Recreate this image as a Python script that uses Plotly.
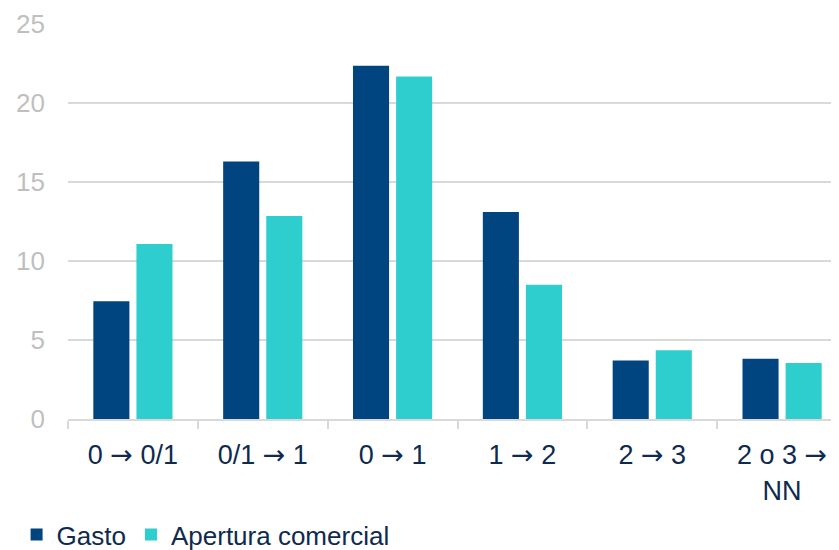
import plotly.graph_objects as go

categories = ["0 → 0/1", "0/1 → 1", "0 → 1", "1 → 2", "2 → 3", "2 o 3 →<br>NN"]
gasto = [7.45, 16.3, 22.35, 13.1, 3.7, 3.82]
apertura = [11.08, 12.85, 21.68, 8.5, 4.35, 3.55]
y_ticks = [0, 5, 10, 15, 20, 25]

FONT = "Liberation Sans, Arial, sans-serif"
NAVY = "#0E2A4F"

# tick text: render the arrow with a wider glyph
tick_text = [c.replace("→", '<span style="font-family:DejaVu Sans">→</span>') for c in categories]

fig = go.Figure()
fig.add_trace(go.Bar(name="Gasto", x=categories, y=gasto,
                     marker=dict(color="#004580", line=dict(width=0))))
fig.add_trace(go.Bar(name="Apertura comercial", x=categories, y=apertura,
                     marker=dict(color="#2ECECE", line=dict(width=0))))

fig.update_layout(
    width=839, height=550,
    margin=dict(l=60, r=0, t=16, b=137),
    paper_bgcolor="white", plot_bgcolor="white",
    barmode="group", bargap=0.336, bargroupgap=0.163,
    font=dict(family=FONT, size=26, color=NAVY),
    showlegend=True,
    legend=dict(orientation="h", x=-0.066, xanchor="left", y=-0.293, yanchor="middle",
                font=dict(size=26, color=NAVY), itemwidth=30, tracegroupgap=0,
                bgcolor="rgba(0,0,0,0)"),
    xaxis=dict(type="category", range=[-0.5, 5.5], tickson="boundaries",
               tickvals=categories, ticktext=tick_text,
               ticks="outside", ticklen=8, tickcolor="#D9D9D9", tickwidth=2,
               showline=True, linecolor="#D9D9D9", linewidth=2,
               showgrid=False, tickfont=dict(size=27, color=NAVY),
               ticklabelstandoff=11, automargin=False, fixedrange=True),
    yaxis=dict(range=[0, 25], tickvals=y_ticks, showgrid=True, gridcolor="#D9D9D9",
               gridwidth=2, zeroline=False, showline=False, ticks="",
               tickfont=dict(size=26, color="#BFBFBF"), ticklabelstandoff=22,
               automargin=False, fixedrange=True),
)

fig.write_html("out.html")
